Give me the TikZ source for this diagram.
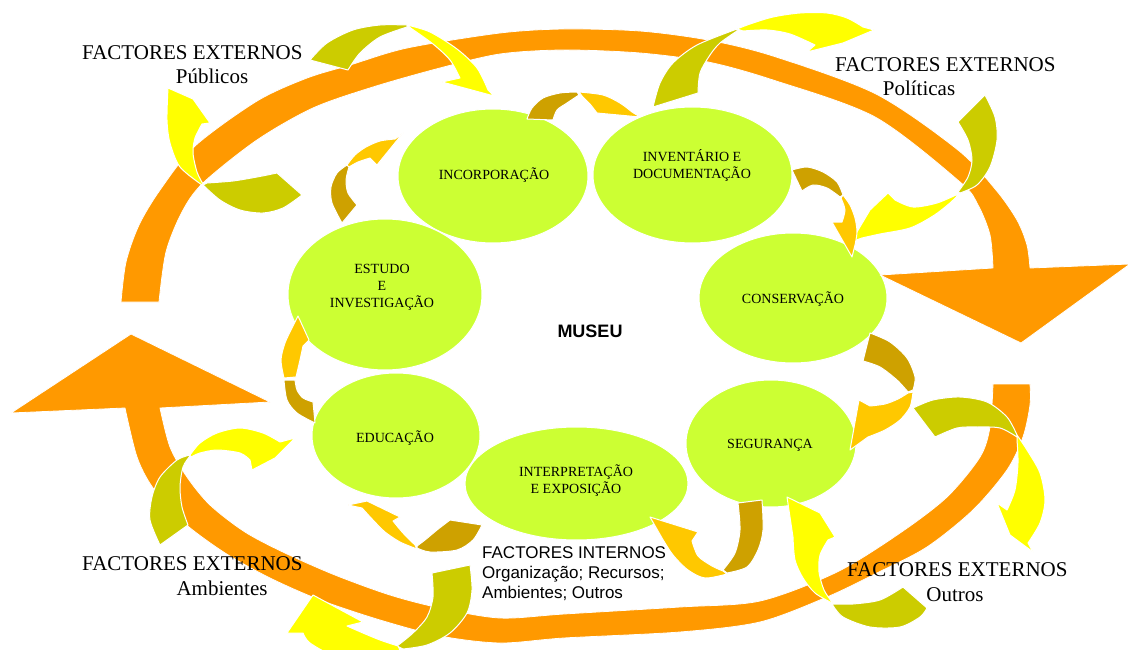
\documentclass[tikz,border=0pt]{standalone}
\usepackage{fontspec}
\setmainfont{Liberation Serif}
\setsansfont{Liberation Sans}
\usetikzlibrary{shapes.geometric}

\definecolor{ringorange}{RGB}{255,153,0}
\definecolor{blobgreen}{RGB}{204,255,51}
\definecolor{extolive}{RGB}{204,204,0}
\definecolor{extyellow}{RGB}{255,255,0}
\definecolor{intdark}{RGB}{206,161,0}
\definecolor{intgold}{RGB}{255,200,0}

\newcommand{\blockpiece}[4]{\path[#1] plot[smooth] coordinates {#2} #3 -- plot[smooth] coordinates {#4} -- cycle;}

\begin{document}
\begin{tikzpicture}
  [x=1pt,y=-1pt,
   blob/.style 2 args={ellipse,fill=blobgreen,draw=white,line width=1pt,
     minimum width=#1,minimum height=#2,inner sep=0pt},
   blobtext/.style={font=\fontsize{14}{17}\selectfont,align=center,inner sep=0pt},
   extlabel/.style={font=\fontsize{21}{24}\selectfont,inner sep=0pt,anchor=base},
   ring/.style={fill=ringorange,draw=white,line width=0.8pt,line join=round},
   oltail/.style={fill=extolive,draw=white,line width=1pt,line join=round},
   ylhead/.style={fill=extyellow,draw=white,line width=1pt,line join=round},
   dktail/.style={fill=intdark,draw=white,line width=1pt,line join=round},
   gdhead/.style={fill=intgold,draw=white,line width=1pt,line join=round}]

  \useasboundingbox (0,0) rectangle (1128,650);
  \clip (0,0) rectangle (1128,650);

  \node[blob={190}{134}] (incorp)  at (493,176)     {};
  \node[blob={199}{136}] (invent)  at (692.5,175)   {};
  \node[blob={188}{130}] (conserv) at (793,298)     {};
  \node[blob={170}{127}] (segur)   at (771,443.5)   {};
  \node[blob={223}{113}] (interp)  at (576.5,483.5) {};
  \node[blob={168}{125}] (educ)    at (396,435.5)   {};
  \node[blob={194}{151}] (estudo)  at (385,294.5)   {};

  % outer ring
  \path[ring] plot[smooth] coordinates {(121,302) (126,262) (139,225) (160,190) (195,146) (257,101) (307,78) (350,65) (407,48) (500,33) (564,29) (640,31) (708,40) (773,56) (876,94) (958,150) (996,190) (1017,220) (1027,245) (1030,268)}
    -- (1130,264) -- (1021,343) -- (880,275)
    -- plot[smooth] coordinates {(993,268) (990,235) (978,205) (960,182) (875,117) (773,80) (708,62) (640,53) (564,50) (500,54) (440,68) (373,87) (313,108) (257,140) (203,183) (182,212) (166,252) (159,302)} -- cycle;
  \path[ring] plot[smooth] coordinates {(1030,384) (1030,405) (1023,437) (1007,470) (973,510) (927,547) (877,573) (827,597) (760,622) (680,632) (564,638) (500,643) (440,636) (380,620) (320,600) (270,578) (225,553) (183,522) (153,488) (137,457) (125,408)}
    -- (11,413) -- (131,334) -- (270,402)
    -- plot[smooth] coordinates {(160,408) (170,447) (187,477) (210,505) (245,532) (285,553) (335,575) (390,595) (440,608) (500,618) (564,614) (680,607) (760,601) (837,572) (900,533) (947,497) (980,457) (990,427) (993,384)} -- cycle;

  % external factors
  \blockpiece{oltail}{(302,195) (283,208) (263,213) (240,210) (220,200) (203,185)}{}{(207,183) (233,181) (257,177) (277,173)}
  \blockpiece{ylhead}{(202,185) (180,167) (170,143) (167,120) (168,88)}{-- (193,99) -- (210,123)}{(202,124) (195,138) (193,153) (197,172) (203,184)}
  \blockpiece{oltail}{(310,60) (327,43) (353,30) (380,25) (407,25)}{}{(407,27) (380,37) (360,53) (348,70)}
  \blockpiece{ylhead}{(407,25) (430,32) (457,49) (477,68) (488,90)}{-- (494,96) -- (442,82)}{(460,78) (450,60) (433,44) (412,29)}

  \blockpiece{oltail}{(653,107) (660,83) (673,63) (697,45) (737,29)}{}{(737,31) (720,43) (710,55) (700,73) (698,93)}
  \blockpiece{ylhead}{(737,29) (750,24) (773,17) (800,13) (827,13) (847,18) (863,27)}{-- (874,30) -- (843,43) -- (807,52)}{(815,45) (790,34) (767,30) (743,31)}
  \blockpiece{oltail}{(985,95) (995,117) (997,140) (990,167) (977,185) (960,193)}{}{(958,192) (968,177) (972,160) (968,140) (958,122)}
  \blockpiece{ylhead}{(960,193) (950,203) (933,216) (910,228) (880,234) (862,238)}{-- (851,242) -- (870,210) -- (888,193)}{(895,200) (913,207) (937,203) (958,194)}

  \blockpiece{oltail}{(160,545) (150,520) (152,497) (160,477) (177,460) (190,455)}{}{(190,456) (183,467) (180,487) (182,507) (188,525)}
  \blockpiece{ylhead}{(190,455) (200,443) (217,433) (240,428) (263,433) (280,442)}{-- (295,438) -- (275,458) -- (252,470)}{(250,460) (240,453) (217,450) (200,453) (191,457)}
  \blockpiece{oltail}{(470,565) (472,590) (467,613) (450,633) (427,645) (403,649)}{}{(397,646) (413,633) (427,617) (433,597) (432,573)}
  \blockpiece{ylhead}{(400,650) (370,660) (335,656) (310,643) (303,633)}{-- (287,633) -- (313,595) -- (363,622)}{(347,626) (363,633) (380,640) (398,646)}

  \blockpiece{oltail}{(913,408) (933,400) (960,397) (987,402) (1007,417) (1017,435)}{}{(1017,437) (1000,428) (977,427) (957,428) (935,437)}
  \blockpiece{ylhead}{(1017,435) (1027,450) (1040,473) (1045,500) (1040,523) (1028,543)}{-- (1033,552) -- (1010,535) -- (997,503)}{(1007,510) (1015,490) (1018,463) (1017,440)}
  \blockpiece{ylhead}{(832,603) (815,593) (803,578) (795,560) (793,537)}{-- (787,497) -- (820,513) -- (835,537)}{(828,540) (820,555) (819,572) (824,590) (832,602)}
  \blockpiece{oltail}{(832,604) (843,617) (870,627) (900,627) (920,617) (927,608)}{}{(903,587) (880,600) (853,604) (834,604)}

  % internal flow
  \blockpiece{dktail}{(342,223) (332,203) (331,187) (337,173) (347,165)}{}{(349,167) (346,180) (348,193) (357,205)}
  \blockpiece{gdhead}{(347,165) (355,155) (366,147) (380,141) (395,139)}{-- (403,133) -- (377,165)}{(370,158) (358,162) (349,167)}
  \blockpiece{dktail}{(527,119) (532,108) (543,98) (560,93) (577,92)}{}{(579,95) (567,103) (557,110) (553,120)}
  \blockpiece{gdhead}{(579,92) (603,95) (620,103) (632,112)}{-- (640,117) -- (597,113)}{(590,104) (582,96)}
  \blockpiece{dktail}{(792,170) (807,167) (823,172) (837,182) (843,195)}{}{(840,197) (827,188) (813,185) (802,191)}
  \blockpiece{gdhead}{(843,195) (850,205) (855,218) (857,232) (855,245)}{-- (852,257) -- (832,222)}{(842,222) (845,210) (841,198)}
  \blockpiece{dktail}{(870,333) (890,342) (907,358) (915,377) (913,390)}{}{(908,392) (897,380) (880,367) (863,361)}
  \blockpiece{gdhead}{(913,392) (910,407) (900,420) (885,430) (868,437)}{-- (850,450) -- (859,400)}{(870,406) (885,404) (898,399) (908,393)}
  \blockpiece{dktail}{(762,500) (763,530) (758,550) (747,567) (727,573)}{}{(723,570) (735,553) (740,530) (738,503)}
  \blockpiece{gdhead}{(727,574) (705,578) (688,570) (673,555) (662,538)}{-- (650,517) -- (698,532)}{(692,541) (698,556) (712,566) (723,571)}
  \blockpiece{dktail}{(482,525) (473,540) (457,550) (430,552) (417,548)}{}{(417,546) (425,540) (437,530) (450,520)}
  \blockpiece{gdhead}{(417,549) (400,542) (385,532) (373,520) (362,508)}{-- (348,505) -- (367,501) -- (400,517)}{(393,521) (403,533) (415,545)}
  \blockpiece{dktail}{(284,380) (287,400) (297,413) (315,423)}{}{(313,402) (303,398) (297,390) (295,380)}
  \blockpiece{gdhead}{(284,378) (281,360) (285,343) (292,328)}{-- (298,316) -- (309,340)}{(303,346) (300,360) (296,377)}

  \node[blobtext] (incorptxt)  at (494,175) {INCORPORAÇÃO};
  \node[blobtext] (inventtxt)  at (692,165) {INVENTÁRIO E\\DOCUMENTAÇÃO};
  \node[blobtext] (conservtxt) at (793,299) {CONSERVAÇÃO};
  \node[blobtext] (segurtxt)   at (770,445) {SEGURANÇA};
  \node[blobtext] (interptxt)  at (576,481) {INTERPRETAÇÃO\\E EXPOSIÇÃO};
  \node[blobtext] (eductxt)    at (395,438) {EDUCAÇÃO};
  \node[blobtext] (estudotxt)  at (382,287) {ESTUDO\\E\\INVESTIGAÇÃO};
  \node[font=\sffamily\bfseries\fontsize{18}{20}\selectfont,inner sep=0pt] (museu) at (590,331) {MUSEU};

  \node[font=\sffamily\fontsize{17}{20}\selectfont,align=left,anchor=north west,inner sep=0pt] (internos) at (482,546) {FACTORES INTERNOS\\Organização; Recursos;\\Ambientes; Outros};

  \node[extlabel,anchor=base west] (pubtitle) at (82,60)   {FACTORES EXTERNOS};
  \node[extlabel]                  (pubname)  at (212,84)  {Públicos};
  \node[extlabel,anchor=base west] (poltitle) at (835,72)  {FACTORES EXTERNOS};
  \node[extlabel]                  (polname)  at (919,96)  {Políticas};
  \node[extlabel,anchor=base west] (ambtitle) at (82,570)  {FACTORES EXTERNOS};
  \node[extlabel]                  (ambname)  at (222,595) {Ambientes};
  \node[extlabel,anchor=base west] (outtitle) at (847,576) {FACTORES EXTERNOS};
  \node[extlabel]                  (outname)  at (955,601) {Outros};
\end{tikzpicture}
\end{document}
